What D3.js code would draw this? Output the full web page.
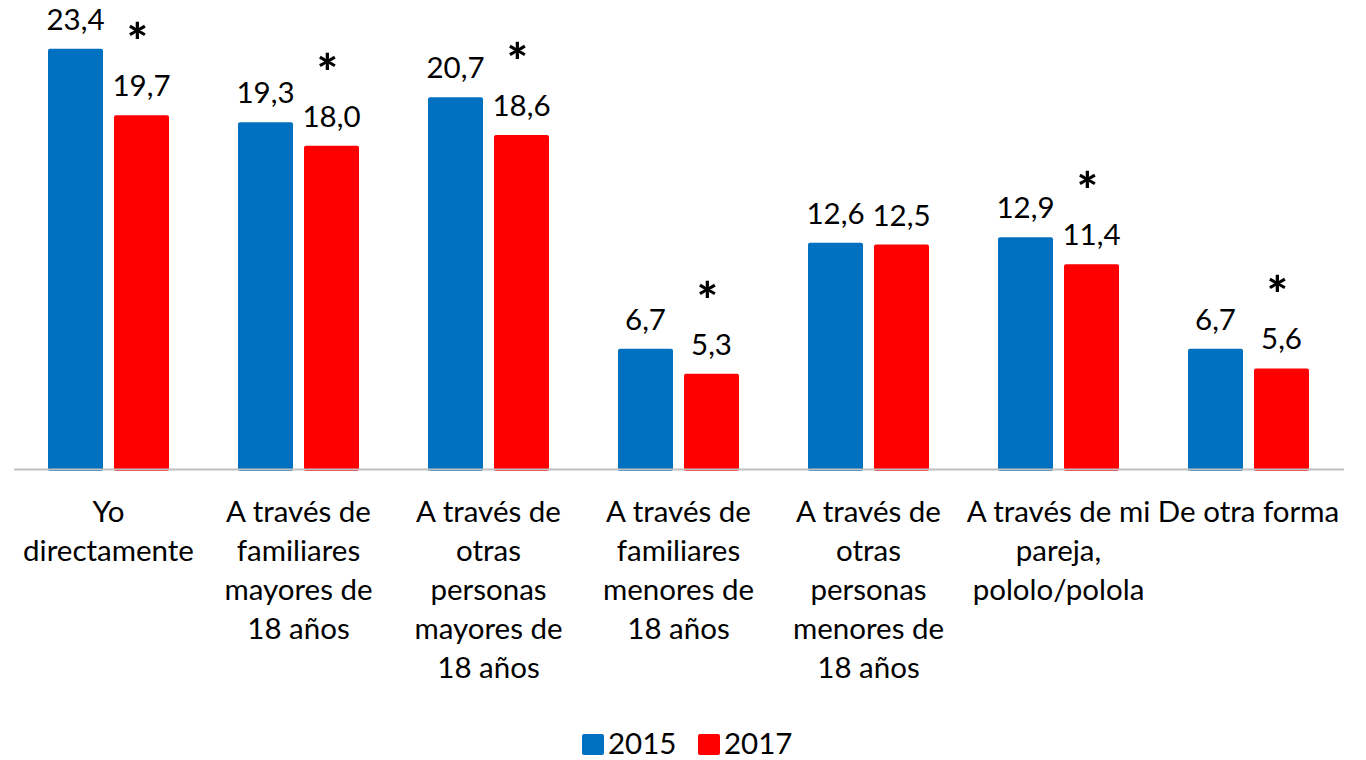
<!DOCTYPE html>
<html><head><meta charset="utf-8">
<script src="https://cdn.jsdelivr.net/npm/d3@7"></script>
<style>
html,body{margin:0;padding:0;background:#fff;}
svg{display:block;font-family:Lato,"Open Sans",sans-serif;}
</style></head>
<body>
<svg id="chart" width="1366" height="760"></svg>
<script>
const categories = [
  ["Yo","directamente"],
  ["A través de","familiares","mayores de","18 años"],
  ["A través de","otras","personas","mayores de","18 años"],
  ["A través de","familiares","menores de","18 años"],
  ["A través de","otras","personas","menores de","18 años"],
  ["A través de mi","pareja,","pololo/polola"],
  ["De otra forma"]
];
const seriesNames = ["2015","2017"];
const values2015 = [23.4, 19.3, 20.7, 6.7, 12.6, 12.9, 6.7];
const values2017 = [19.7, 18.0, 18.6, 5.3, 12.5, 11.4, 5.6];
const significant = [true, true, true, true, false, true, true];
const colors = ["#0070C0","#FF0000"];

const svg = d3.select("#chart");
const fmt = v => d3.format(".1f")(v).replace(".", ",");
const FS = 29.5;

const x0 = d3.scaleBand().domain(d3.range(categories.length)).range([13.5, 1343.5]).padding(0);
const x1 = d3.scaleBand().domain(seriesNames).range([34.5, 155.5]).paddingInner(1/6).paddingOuter(0);
const y = d3.scaleLinear().domain([0, 25]).range([469, 20]);

const data = categories.map((c, i) => ({i, vals: [values2015[i], values2017[i]]}));

const groups = svg.selectAll("g.grp").data(data).join("g")
  .attr("class","grp")
  .attr("transform", d => `translate(${x0(d.i)},0)`);

groups.selectAll("rect").data(d => d.vals.map((v, k) => ({v, k}))).join("rect")
  .attr("x", d => x1(seriesNames[d.k]))
  .attr("width", x1.bandwidth())
  .attr("y", d => y(d.v))
  .attr("height", d => y(0) - y(d.v) + 2)
  .attr("rx", 2)
  .attr("fill", d => colors[d.k]);

groups.selectAll("text.val").data(d => d.vals.map((v, k) => ({v, k}))).join("text")
  .attr("class","val")
  .attr("x", d => x1(seriesNames[d.k]) + x1.bandwidth()/2)
  .attr("y", d => y(d.v) - 19)
  .attr("text-anchor","middle")
  .attr("font-size", FS)
  .attr("fill","#000")
  .text(d => fmt(d.v));

groups.filter(d => significant[d.i]).append("text")
  .attr("x", x1("2017") + x1.bandwidth()/2 - 4)
  .attr("y", d => y(d.vals[1]) - 55)
  .attr("text-anchor","middle")
  .attr("font-size", 50)
  .attr("font-weight","900")
  .attr("fill","#000")
  .text("*");

// axis line
const xAxis = d3.axisBottom(x0).tickSize(0).tickFormat("");
const ax = svg.append("g").attr("transform", `translate(0,${y(0)})`).call(xAxis);
ax.select(".domain").attr("stroke","#BFBFBF").attr("stroke-width",2);

// category labels
const lab = svg.append("g");
categories.forEach((lines, i) => {
  const t = lab.append("text")
    .attr("x", x0(i) + x0.bandwidth()/2)
    .attr("y", 522)
    .attr("text-anchor","middle")
    .attr("font-size", FS)
    .attr("fill","#000");
  lines.forEach((ln, j) => {
    t.append("tspan").attr("x", x0(i) + x0.bandwidth()/2).attr("y", 522 + j*39).text(ln);
  });
});

// legend
const leg = svg.append("g");
const legX = [582, 698];
seriesNames.forEach((s, k) => {
  leg.append("rect").attr("x", legX[k]).attr("y", 734).attr("width", 22).attr("height", 21).attr("rx", 2).attr("fill", colors[k]);
  leg.append("text").attr("x", legX[k] + 26).attr("y", 754).attr("font-size", FS).attr("fill","#000").text(s);
});
</script>
</body></html>
